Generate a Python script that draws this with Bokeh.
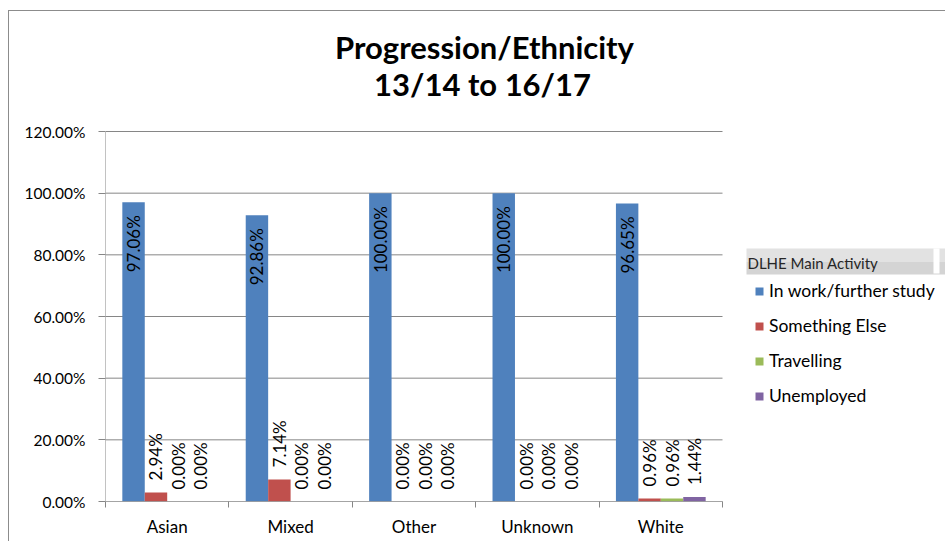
import math
from bokeh.plotting import figure
from bokeh.models import (Range1d, FixedTicker, PrintfTickFormatter, Legend, LegendItem,
                          Label, BoxAnnotation, ColumnDataSource)
from bokeh.embed import file_html
from bokeh.resources import INLINE
from bokeh.core.properties import value

# ---------------- data ----------------
categories = ["Asian", "Mixed", "Other", "Unknown", "White"]
series_names = ["In work/further study", "Something Else", "Travelling", "Unemployed"]
in_work = [97.06, 92.86, 100.00, 100.00, 96.65]
something_else = [2.94, 7.14, 0.00, 0.00, 0.96]
travelling = [0.00, 0.00, 0.00, 0.00, 0.96]
unemployed = [0.00, 0.00, 0.00, 0.00, 1.44]
y_ticks = [0, 20, 40, 60, 80, 100, 120]
title_lines = ["Progression/Ethnicity", "13/14 to 16/17"]
legend_title = "DLHE Main Activity"

colors = ["#4F81BD", "#C0504D", "#9BBB59", "#8064A2"]
FONT = "Lato"
GRID = "#868686"

# ---------------- layout ----------------
W, H = 937, 531                 # canvas size (page offset 9, 11 after margin + border)
ML, MB = 96, 41                 # left / bottom panels
frame_w, frame_h = W - ML, H - MB
plot_w_px, plot_h_px = 617, 370  # size of the chart's plot area
y_max, n_cat = y_ticks[-1], len(categories)
y_end = y_max * frame_h / plot_h_px
x_end = n_cat * frame_w / plot_w_px

p = figure(width=W, height=H, output_backend="svg", toolbar_location=None,
           x_range=Range1d(0, x_end), y_range=Range1d(0, y_end),
           min_border_left=ML, min_border_right=0, min_border_top=0, min_border_bottom=MB,
           styles={"margin-left": "8px", "margin-top": "10px",
                   "border-left": "1px solid #8c8c8c", "border-top": "1px solid #8c8c8c"})
p.outline_line_color = None
p.background_fill_color = "white"
p.border_fill_color = "white"
p.xgrid.visible = False
p.ygrid.visible = False

# gridlines (only over the plot area) and axis lines
p.segment(x0=[0] * len(y_ticks), x1=[n_cat] * len(y_ticks), y0=y_ticks, y1=y_ticks,
          line_color=GRID, line_width=1)
p.segment(x0=[0], x1=[0], y0=[0], y1=[y_max], line_color=GRID, line_width=1)

series = [in_work, something_else, travelling, unemployed]
n = len(series)
bw = 1.0 / (n + 1.5)
renderers = []
for i, (name, vals, col) in enumerate(zip(series_names, series, colors)):
    xs = [k + 0.5 + (i - (n - 1) / 2) * bw for k in range(n_cat)]
    src = ColumnDataSource(dict(x=xs, top=vals, lab=["%.2f%%" % v for v in vals]))
    r = p.vbar(x="x", top="top", width=bw, source=src, fill_color=col, line_color=None)
    renderers.append(r)
    if i == 0:
        p.text(x="x", y="top", text="lab", source=src, angle=math.pi / 2,
               text_align="right", text_baseline="middle", y_offset=13,
               text_font=value(FONT), text_font_size="17px", text_color="#000000")
    else:
        p.text(x="x", y="top", text="lab", source=src, angle=math.pi / 2,
               text_align="left", text_baseline="middle", y_offset=-12,
               text_font=value(FONT), text_font_size="17px", text_color="#000000")

# y axis
p.yaxis.ticker = FixedTicker(ticks=y_ticks)
p.yaxis.formatter = PrintfTickFormatter(format="%.2f%%")
p.yaxis.major_tick_out = 7
p.yaxis.major_tick_in = 0
p.yaxis.minor_tick_out = 0
p.yaxis.minor_tick_in = 0
p.yaxis.axis_line_color = None
p.yaxis.major_tick_line_color = GRID
p.yaxis.major_label_standoff = 13
p.yaxis.major_label_text_font = FONT
p.yaxis.major_label_text_font_size = "15.5px"
p.yaxis.major_label_text_color = "#000000"

# x axis
centers = [k + 0.5 for k in range(n_cat)]
p.xaxis.ticker = FixedTicker(ticks=centers, minor_ticks=[float(k) for k in range(n_cat + 1)])
p.xaxis.major_label_overrides = {c: cat for c, cat in zip(centers, categories)}
p.xaxis.major_tick_out = 0
p.xaxis.major_tick_in = 0
p.xaxis.minor_tick_out = 6
p.xaxis.minor_tick_in = 0
p.xaxis.minor_tick_line_color = GRID
p.xaxis.axis_line_color = None
p.xaxis.major_label_standoff = 8
p.xaxis.major_label_text_font = FONT
p.xaxis.major_label_text_font_size = "17px"
p.xaxis.major_label_text_color = "#000000"
p.segment(x0=[0], x1=[n_cat], y0=[0], y1=[0], line_color=GRID, line_width=1)

# titles (screen units relative to the frame, y from bottom)
p.add_layout(Label(x=379, y=455, x_units="screen", y_units="screen", text=title_lines[0],
                   text_align="center", text_baseline="middle", text_font=FONT,
                   text_font_size="31px", text_font_style="bold", text_color="#000000"))
p.add_layout(Label(x=377, y=418, x_units="screen", y_units="screen", text=title_lines[1],
                   text_align="center", text_baseline="middle", text_font=FONT,
                   text_font_size="31px", text_font_style="bold", text_color="#000000"))

# legend header bar
p.add_layout(BoxAnnotation(left=641, right=frame_w, top=253, bottom=240,
                           left_units="screen", right_units="screen",
                           top_units="screen", bottom_units="screen",
                           fill_color="#e2e2e2", fill_alpha=1, line_color=None))
p.add_layout(BoxAnnotation(left=641, right=frame_w, top=240, bottom=227,
                           left_units="screen", right_units="screen",
                           top_units="screen", bottom_units="screen",
                           fill_color="#d4d4d4", fill_alpha=1, line_color=None))
p.add_layout(BoxAnnotation(left=828, right=834, top=253, bottom=228,
                           left_units="screen", right_units="screen",
                           top_units="screen", bottom_units="screen",
                           fill_color="white", fill_alpha=1, line_color=None))
p.add_layout(Label(x=642, y=239, x_units="screen", y_units="screen", text=legend_title,
                   text_align="left", text_baseline="middle", text_font=FONT,
                   text_font_size="15px", text_color="#262626"))

legend = Legend(items=[LegendItem(label=nm, renderers=[r]) for nm, r in zip(series_names, renderers)],
                location=(649, 95), padding=0, margin=0, spacing=14,
                glyph_width=10, glyph_height=10, label_height=20, label_standoff=5,
                label_text_font=FONT, label_text_font_size="17.5px", label_text_color="#000000",
                border_line_color=None, background_fill_alpha=0)
p.add_layout(legend)

open("out.html", "w").write(file_html(p, INLINE))
